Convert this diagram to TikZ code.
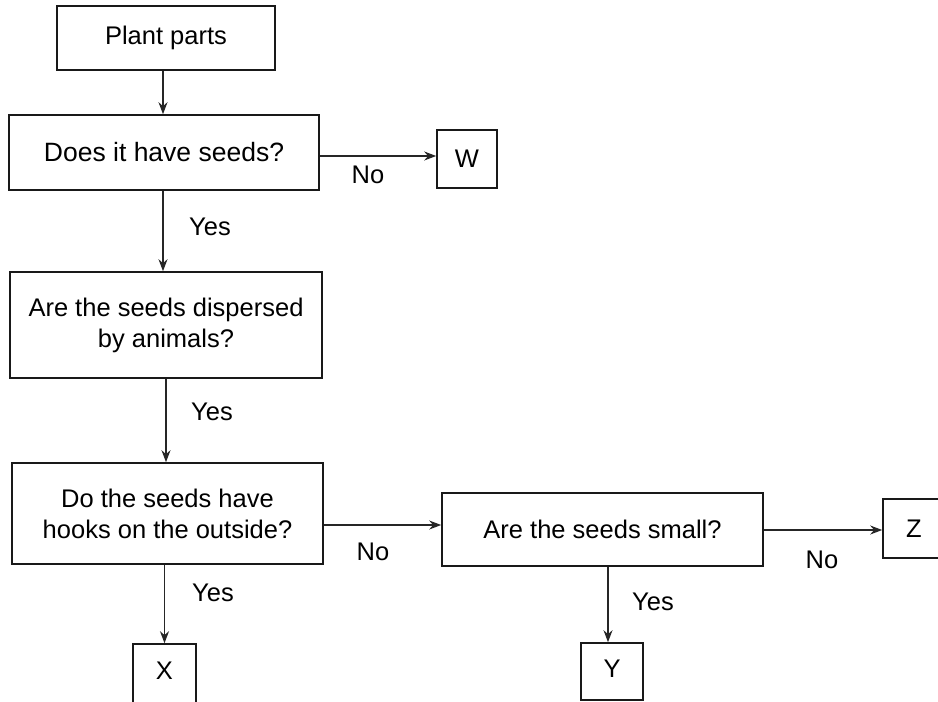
\documentclass[tikz,border=0pt]{standalone}
\usepackage{fontspec}
\setmainfont{Liberation Sans}
\usetikzlibrary{arrows.meta}
\begin{document}
\begin{tikzpicture}[x=1pt,y=-1pt,
  box/.style={draw=black!90, line width=1.6pt, align=center, inner sep=0pt, font=\fontsize{25.5}{31}\selectfont},
  lbl/.style={font=\fontsize{25.5}{30}\selectfont, inner sep=0pt},
  arr/.style={draw=black!85, line width=1.4pt, -{Stealth[length=12pt,width=9pt]}}]
\useasboundingbox (0,0) rectangle (938,702);
\fill[white] (0,0) rectangle (938,702);
\node[box, minimum width=218pt, minimum height=64pt] (plant) at (166,38) {Plant parts};
\node[box, minimum width=310pt, minimum height=75pt, font=\fontsize{26.5}{31}\selectfont] (seeds) at (164,152.5) {Does it have seeds?};
\node[box, minimum width=60pt, minimum height=58pt] (W) at (467,159) {W};
\node[box, minimum width=312pt, minimum height=106pt] (disp) at (166,325) {Are the seeds dispersed\\by animals?};
\node[box, minimum width=311pt, minimum height=101pt] (hooks) at (167.5,513.5) {Do the seeds have\\hooks on the outside?};
\node[box, minimum width=321pt, minimum height=73pt] (small) at (602.5,529.5) {Are the seeds small?};
\node[box, minimum width=62pt, minimum height=59pt] (Z) at (914,528.5) {Z};
\node[box, minimum width=63pt, minimum height=62pt, text depth=8pt] (X) at (164.5,675) {X};
\node[box, minimum width=62pt, minimum height=57pt, text depth=5pt] (Y) at (612,671.5) {Y};
\coordinate (a1) at (163,0);
\coordinate (a2) at (0,156);
\coordinate (a3) at (0,525);
\coordinate (a4) at (0,530);
\coordinate (a5) at (608,0);
\draw[arr] (plant.south -| a1) -- (seeds.north -| a1);
\draw[arr] (seeds.south -| a1) -- (disp.north -| a1);
\draw[arr] (disp.south) -- (hooks.north -| disp.south);
\draw[arr] (hooks.south -| X.north) -- (X.north);
\draw[arr] (seeds.east |- a2) -- (W.west |- a2);
\draw[arr] (hooks.east |- a3) -- (small.west |- a3);
\draw[arr] (small.east |- a4) -- (Z.west |- a4);
\draw[arr] (small.south -| a5) -- (Y.north -| a5);
\node[lbl] (no1) at (368,175) {No};
\node[lbl] (yes1) at (210,227) {Yes};
\node[lbl] (yes2) at (212,412) {Yes};
\node[lbl] (no2) at (373,552) {No};
\node[lbl] (yes3) at (213,593) {Yes};
\node[lbl] (no3) at (822,560) {No};
\node[lbl] (yes4) at (653,602) {Yes};
\end{tikzpicture}
\end{document}
